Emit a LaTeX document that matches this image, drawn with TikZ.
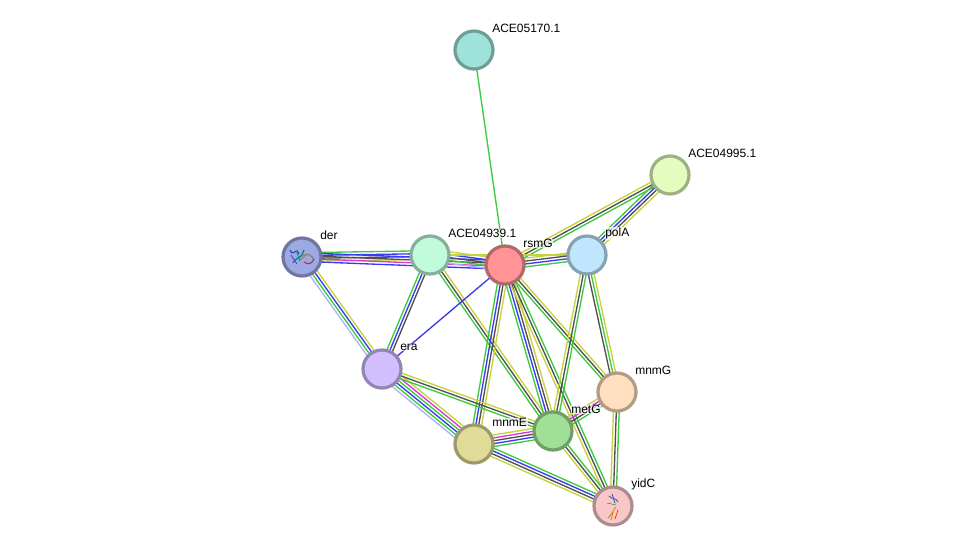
\documentclass[tikz,border=0pt]{standalone}
\usepackage{fontspec}
\setmainfont{Liberation Sans}
\usetikzlibrary{calc}
\usetikzlibrary{backgrounds}
\definecolor{lnyellow}{HTML}{C6D23E}
\definecolor{lngreen}{HTML}{3CCB3C}
\definecolor{lnblue}{HTML}{3A3AF0}
\definecolor{lnblack}{HTML}{505050}
\definecolor{lnpink}{HTML}{D838D8}
\definecolor{lnsky}{HTML}{B0B0FA}
\tikzset{
  protein/.style={circle,draw=#1!70!black,line width=2.4pt,minimum size=28.5pt,inner sep=0pt,fill=#1},
  tag/.style={font=\fontsize{9pt}{10pt}\selectfont,inner sep=0.4pt,fill=white,fill opacity=0.7,text opacity=1},
  link/.style={line width=1pt}
}
\newcommand{\linkbundle}[3]{
  \foreach \col [count=\n] in {#3} {\global\let\bundlen\n}
  \foreach \col [count=\i] in {#3} {
    \pgfmathsetmacro\off{((\bundlen+1)/2-\i)*2.15}
    \draw[link,\col] ($(#1)!\off pt!90:(#2)$)--($(#2)!\off pt!-90:(#1)$);
  }
}
\begin{document}
\begin{tikzpicture}[x=0.75pt,y=-0.75pt]
    \useasboundingbox (0,0) rectangle (976,551);
    \definecolor{cteal}{HTML}{9FE2DA}
    \definecolor{clime}{HTML}{E2FDBE}
    \definecolor{csky}{HTML}{BFE6FD}
    \definecolor{cred}{HTML}{FF9396}
    \definecolor{cmint}{HTML}{C0FCDC}
    \definecolor{cder}{HTML}{9EA8E3}
    \definecolor{clav}{HTML}{D2BFFF}
    \definecolor{cpeach}{HTML}{FFDFC0}
    \definecolor{cleaf}{HTML}{A0E096}
    \definecolor{csand}{HTML}{DFDB98}
    \definecolor{crose}{HTML}{F8C8C8}
    \node[protein=cteal] (ace05170) at (474,50){};
    \node[protein=clime] (ace04995) at (670,175){};
    \node[protein=csky] (polA) at (587,255){};
    \node[protein=cred] (rsmG) at (505,265){};
    \node[protein=cmint] (ace04939) at (430,255){};
    \node[protein=cder] (der) at (302,257){};
    \node[protein=clav] (era) at (382,369){};
    \node[protein=cpeach] (mnmG) at (617,392){};
    \node[protein=cleaf] (metG) at (553,431){};
    \node[protein=csand] (mnmE) at (474,444){};
    \node[protein=crose] (yidC) at (613,506){};
    \begin{pgfonlayer}{background}
        \fill[white] (0,0) rectangle (976,551);
        \linkbundle{ace05170}{rsmG}{lngreen}
        \linkbundle{ace04995}{rsmG}{lngreen,lnblack,lnyellow}
        \linkbundle{ace04995}{polA}{lnyellow,lnblack,lnblue,lngreen}
        \linkbundle{der}{ace04939}{lngreen,lnblue,lnblack,lnyellow}
        \linkbundle{der}{rsmG}{lnblue,lnblack,lnpink,lnblue}
        \linkbundle{der}{era}{lnyellow,lnblue,lngreen,lnsky}
        \linkbundle{ace04939}{rsmG}{lnyellow,lnblue,lnblack,lngreen,lnsky}
        \linkbundle{ace04939}{polA}{lnyellow}
        \linkbundle{ace04939}{era}{lnblack,lnblue,lngreen}
        \linkbundle{ace04939}{metG}{lnyellow,lnblack,lngreen}
        \linkbundle{rsmG}{polA}{lnyellow,lnblack,lnblue,lngreen}
        \linkbundle{rsmG}{era}{lnblue}
        \linkbundle{rsmG}{mnmE}{lnyellow,lnblack,lnblue,lngreen}
        \linkbundle{rsmG}{metG}{lnyellow,lnblack,lnblue,lngreen}
        \linkbundle{rsmG}{mnmG}{lnyellow,lnblack,lngreen}
        \linkbundle{rsmG}{yidC}{lngreen,lnblack,lnyellow}
        \linkbundle{polA}{metG}{lngreen,lnblack,lnyellow}
        \linkbundle{polA}{mnmG}{lnyellow,lngreen,lnblack}
        \linkbundle{mnmG}{metG}{lngreen,lnblack,lnpink,lnyellow}
        \linkbundle{mnmG}{yidC}{lngreen,lnblack,lnyellow}
        \linkbundle{metG}{yidC}{lngreen,lnblack,lnyellow}
        \linkbundle{mnmE}{metG}{lnyellow,lnpink,lnblack,lnblue,lngreen}
        \linkbundle{mnmE}{yidC}{lngreen,lnblue,lnblack,lnyellow}
        \linkbundle{era}{mnmE}{lnyellow,lnpink,lngreen,lnblue,lngreen,lnsky}
        \linkbundle{era}{metG}{lnyellow,lnblack,lngreen}
    \end{pgfonlayer}
    \draw[lnblue!80!black,line width=0.7pt] (290,250) .. controls (293,258) and (296,246) .. (299,254);
    \draw[teal,line width=0.9pt] (293,263) .. controls (297,255) and (300,262) .. (304,250);
    \draw[lnblue,line width=0.6pt] (291,255) -- (297,264);
    \draw[teal!70!green,line width=0.6pt] (296,250) -- (300,261);
    \draw[gray,line width=0.9pt] (303,256) .. controls (308,252) and (312,256) .. (314,260);
    \draw[purple!60!gray,line width=0.8pt] (304,262) .. controls (308,265) and (312,264) .. (314,259);
    \draw[olive!70!gray,line width=0.6pt] (299,261) -- (307,254);
    \draw[gray!70!blue,line width=0.7pt] (609,496) .. controls (612,500) and (616,497) .. (618,502);
    \draw[gray!60!blue,line width=0.6pt] (612,494) -- (615,503);
    \draw[lngreen!50!gray,line width=0.6pt] (607,504) .. controls (610,501) and (613,507) .. (616,504);
    \draw[orange,line width=0.7pt] (611,520) .. controls (613,514) and (612,510) .. (616,507);
    \draw[red!70!orange,line width=0.5pt] (615,519) -- (618,510);
    \draw[olive,line width=0.5pt] (608,518) -- (613,512);
    \node[tag,anchor=west] (ace05170lab) at (491.5,28){ACE05170.1};
    \node[tag,anchor=west] (ace04995lab) at (687.5,153){ACE04995.1};
    \node[tag,anchor=west] (polAlab) at (604.5,233.5){polA};
    \node[tag,anchor=west] (rsmGlab) at (522.5,243.5){rsmG};
    \node[tag,anchor=west] (ace04939lab) at (447.5,233.5){ACE04939.1};
    \node[tag,anchor=west] (derlab) at (319.5,235.5){der};
    \node[tag,anchor=west] (eralab) at (399.5,347.5){era};
    \node[tag,anchor=west] (mnmGlab) at (634.5,370.5){mnmG};
    \node[tag,anchor=west] (metGlab) at (570.5,409.5){metG};
    \node[tag,anchor=west] (mnmElab) at (491.5,422.5){mnmE};
    \node[tag,anchor=west] (yidClab) at (630.5,484.5){yidC};
\end{tikzpicture}
\end{document}
